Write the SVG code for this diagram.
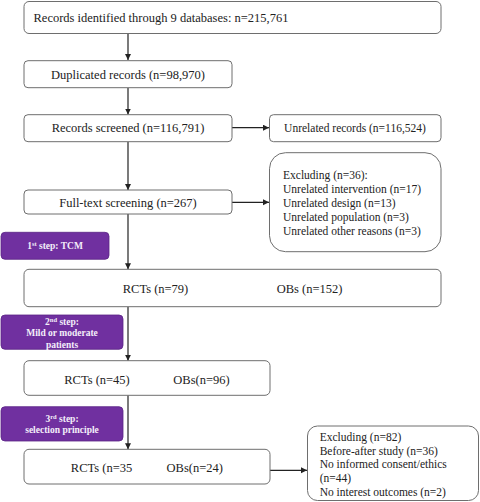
<svg xmlns="http://www.w3.org/2000/svg" width="480" height="502" viewBox="0 0 480 502">
<defs>
<marker id="ah" markerWidth="8" markerHeight="8" refX="6" refY="3" orient="auto" markerUnits="userSpaceOnUse">
<path d="M0,0 L6,3 L0,6 Z" fill="#222"/>
</marker>
<style>
.box{fill:#fff;stroke:#6e6e6e;stroke-width:1}
.step{fill:#7030a0;stroke:#5a2585;stroke-width:0.8}
.t{font-family:"Liberation Serif","Times New Roman",serif;font-size:12.5px;fill:#222}
.s{font-family:"Liberation Serif","Times New Roman",serif;font-size:11.5px;fill:#222}
.w{font-family:"Liberation Serif","Times New Roman",serif;font-size:9.5px;font-weight:bold;fill:#f4eefa}
.c{stroke:#222;stroke-width:1.2;fill:none}
</style>
</defs>
<rect width="480" height="502" fill="#fff"/>
<g id="connectors">
<line class="c" x1="128" y1="34" x2="128" y2="60" marker-end="url(#ah)"/>
<line class="c" x1="128" y1="88" x2="128" y2="114.5" marker-end="url(#ah)"/>
<line class="c" x1="232" y1="127.7" x2="269" y2="127.7" marker-end="url(#ah)"/>
<line class="c" x1="128" y1="141.7" x2="128" y2="190" marker-end="url(#ah)"/>
<line class="c" x1="232" y1="202.3" x2="269" y2="202.3" marker-end="url(#ah)"/>
<line class="c" x1="128" y1="214" x2="128" y2="269.3" marker-end="url(#ah)"/>
<line class="c" x1="128" y1="306.7" x2="128" y2="360.7" marker-end="url(#ah)"/>
<line class="c" x1="128" y1="395.3" x2="128" y2="449.3" marker-end="url(#ah)"/>
<line class="c" x1="270" y1="470.3" x2="307" y2="470.3" marker-end="url(#ah)"/>
</g>
<g id="n1"><rect class="box" x="24" y="1.5" width="417" height="32" rx="5"/>
<text class="t" x="33.5" y="22">Records identified through 9 databases: n=215,761</text></g>
<g id="n2"><rect class="box" x="24" y="60.7" width="208" height="27" rx="4"/>
<text class="t" x="128" y="78.5" text-anchor="middle">Duplicated records (n=98,970)</text></g>
<g id="n3"><rect class="box" x="24" y="114.7" width="208" height="27" rx="4"/>
<text class="t" x="128" y="132" text-anchor="middle">Records screened (n=116,791)</text></g>
<g id="n4"><rect class="box" x="269.5" y="114.7" width="171.5" height="27" rx="4"/>
<text class="s" x="355" y="131.5" text-anchor="middle">Unrelated records (n=116,524)</text></g>
<g id="n5"><rect class="box" x="269.5" y="152.7" width="171.5" height="99" rx="16"/>
<text class="s" x="283" y="179">Excluding (n=36):</text>
<text class="s" x="283" y="193">Unrelated intervention (n=17)</text>
<text class="s" x="283" y="207">Unrelated design (n=13)</text>
<text class="s" x="283" y="221">Unrelated population (n=3)</text>
<text class="s" x="283" y="235">Unrelated other reasons (n=3)</text></g>
<g id="n6"><rect class="box" x="24" y="190" width="208" height="24" rx="4"/>
<text class="t" x="128" y="206.5" text-anchor="middle">Full-text screening (n=267)</text></g>
<g id="step1"><rect class="step" x="1" y="232.3" width="108" height="27" rx="4"/>
<text class="w" x="55" y="249.3" text-anchor="middle">1<tspan font-size="6.5" dy="-3.5">st</tspan><tspan dy="3.5"> step: TCM</tspan></text></g>
<g id="n7"><rect class="box" x="24" y="269.3" width="417" height="37.4" rx="5"/>
<text class="t" x="155.5" y="293" text-anchor="middle">RCTs (n=79)</text>
<text class="t" x="309.5" y="293" text-anchor="middle">OBs (n=152)</text></g>
<g id="step2"><rect class="step" x="1" y="315" width="122" height="34.3" rx="4"/>
<text class="w" x="62" y="325" text-anchor="middle">2<tspan font-size="6.5" dy="-3.5">nd</tspan><tspan dy="3.5"> step:</tspan></text>
<text class="w" x="62" y="336.3" text-anchor="middle">Mild or moderate</text>
<text class="w" x="62" y="347.5" text-anchor="middle">patients</text></g>
<g id="n8"><rect class="box" x="24" y="360.7" width="246" height="34.6" rx="5"/>
<text class="t" x="97" y="383.5" text-anchor="middle">RCTs (n=45)</text>
<text class="t" x="201.5" y="383.5" text-anchor="middle">OBs(n=96)</text></g>
<g id="step3"><rect class="step" x="1" y="406.7" width="122" height="34.3" rx="4"/>
<text class="w" x="62" y="422.3" text-anchor="middle">3<tspan font-size="6.5" dy="-3.5">rd</tspan><tspan dy="3.5"> step:</tspan></text>
<text class="w" x="62" y="433" text-anchor="middle">selection principle</text></g>
<g id="n9"><rect class="box" x="24" y="449.3" width="246" height="34.7" rx="5"/>
<text class="t" x="101.5" y="471.5" text-anchor="middle">RCTs (n=35</text>
<text class="t" x="194.7" y="471.5" text-anchor="middle">OBs(n=24)</text></g>
<g id="n10"><rect class="box" x="307.5" y="426" width="171" height="74.5" rx="10"/>
<text class="s" x="319.7" y="440.7">Excluding (n=82)</text>
<text class="s" x="319.7" y="454.5">Before-after study (n=36)</text>
<text class="s" x="319.7" y="468.3">No informed consent/ethics</text>
<text class="s" x="319.7" y="482.2">(n=44)</text>
<text class="s" x="319.7" y="496">No interest outcomes (n=2)</text></g>
</svg>
